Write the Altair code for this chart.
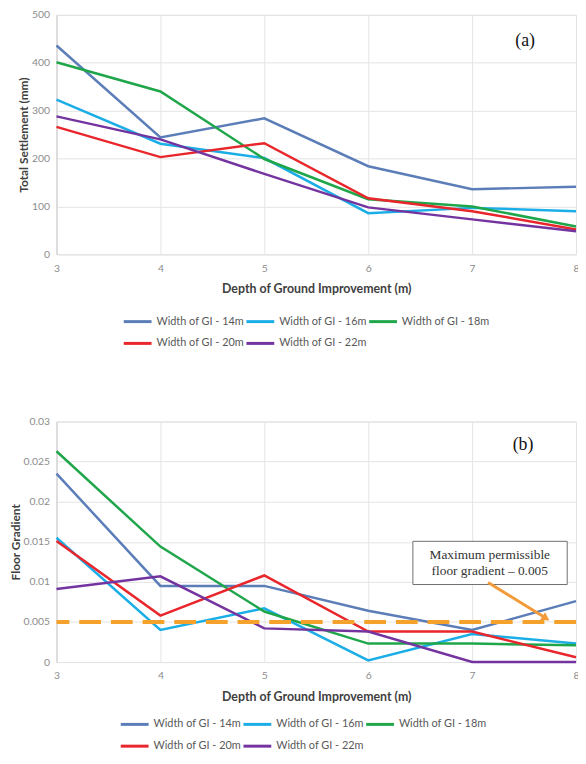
import altair as alt
import pandas as pd

depth = [3, 4, 5, 6, 7, 8]
series = ["Width of GI - 14m", "Width of GI - 16m", "Width of GI - 18m",
          "Width of GI - 20m", "Width of GI - 22m"]
colors = ["#5B7DB8", "#1BAEE6", "#1FA64A", "#E8262B", "#7434A0"]

settle_14 = [436, 244, 284, 184, 136, 141]
settle_16 = [323, 231, 201, 86, 97, 90]
settle_18 = [401, 340, 199, 115, 100, 58]
settle_20 = [266, 203, 232, 117, 90, 52]
settle_22 = [288, 240, 168, 98, 73, 48]

grad_14 = [0.0235, 0.0095, 0.0095, 0.0064, 0.0040, 0.0076]
grad_16 = [0.0155, 0.0040, 0.0067, 0.0002, 0.0035, 0.0023]
grad_18 = [0.0263, 0.0144, 0.0063, 0.0023, 0.0023, 0.0021]
grad_20 = [0.0151, 0.0058, 0.0108, 0.0038, 0.0038, 0.0006]
grad_22 = [0.0091, 0.0107, 0.0042, 0.0038, 0.0000, 0.0000]

limit = [0.005]
note_lines = ["Maximum permissible", "floor gradient \u2013 0.005"]
note_x = [7.17, 7.17]
note_y = [0.01335, 0.01139]
box_x = [6.43]
box_x2 = [7.915]
box_y = [0.01506]
box_y2 = [0.00967]
arrow_x = [7.154]
arrow_y = [0.00992]
arrow_x2 = [7.70]
arrow_y2 = [0.00555]
label_a = ["(a)"]
label_a_x = [7.51]
label_a_y = [446]
label_b = ["(b)"]
label_b_x = [7.49]
label_b_y = [0.02706]

def long_df(vals):
    rows = []
    for s, v in zip(series, vals):
        for d, y in zip(depth, v):
            rows.append({"depth": d, "value": y, "series": s})
    return pd.DataFrame(rows)

top_df = long_df([settle_14, settle_16, settle_18, settle_20, settle_22])
bot_df = long_df([grad_14, grad_16, grad_18, grad_20, grad_22])

color_scale = alt.Scale(domain=series, range=colors)
FONT = "Lato"
GRID = "#E4E4E4"

def x_axis():
    return alt.Axis(
        title="Depth of Ground  Improvement (m)", values=depth, format="d",
        labelFont=FONT, labelFontSize=10.5, labelColor="#8C8C8C", labelFlush=False,
        labelPadding=9, ticks=False, domain=False, labelOverlap=False,
        titleFont=FONT, titleFontSize=12.5, titleColor="#404040", titleFontWeight="bold",
        titlePadding=9, grid=True, gridColor=GRID)

def y_axis(title, values, **kw):
    return alt.Axis(title=title, values=values, labelOverlap=False,
                    labelFont=FONT, labelFontSize=10.5, labelColor="#8C8C8C", labelPadding=7,
                    ticks=False, domain=True, domainColor="#D0D0D0",
                    titleFont=FONT, titleFontSize=12, titleColor="#404040",
                    titleFontWeight="bold", titlePadding=1, gridColor=GRID, **kw)

def legend(lx, ly):
    return alt.Legend(
        title=None, orient="none", legendX=lx, legendY=ly, direction="horizontal", columns=3,
        symbolType="stroke", symbolStrokeWidth=3, symbolSize=790,
        labelFont=FONT, labelFontSize=11, labelColor="#595959",
        columnPadding=-18, rowPadding=-1.5, labelOffset=3, labelLimit=200)

xscale = alt.Scale(domain=[3, 8], nice=False, zero=False)

# ---------- panel (a)
lines_a = alt.Chart(top_df).mark_line(strokeWidth=2.5).encode(
    x=alt.X("depth:Q", scale=xscale, axis=x_axis()),
    y=alt.Y("value:Q", scale=alt.Scale(domain=[0, 500]),
            axis=y_axis("Total Settlement (mm)", list(range(0, 501, 50)))),
    color=alt.Color("series:N", scale=color_scale, legend=legend(66, 294)),
    order=alt.Order("depth:Q"))
text_a = alt.Chart(pd.DataFrame({"t": label_a, "x": label_a_x, "y": label_a_y})).mark_text(
    font="Liberation Serif", fontSize=18, color="#111111").encode(
    x="x:Q", y="y:Q", text="t:N")
panel_a = alt.layer(lines_a, text_a).properties(width=525, height=242)

# ---------- panel (b)
lines_b = alt.Chart(bot_df).mark_line(strokeWidth=2.5).encode(
    x=alt.X("depth:Q", scale=xscale, axis=x_axis()),
    y=alt.Y("value:Q", scale=alt.Scale(domain=[0, 0.03]),
            axis=y_axis("Floor Gradient", [0, 0.005, 0.01, 0.015, 0.02, 0.025, 0.03],
                        labelExpr="datum.value == 0 ? '0' : format(datum.value, '.3~f')")),
    color=alt.Color("series:N", scale=color_scale, legend=legend(63, 290)),
    order=alt.Order("depth:Q"))
limit_rule = alt.Chart(pd.DataFrame({"y": limit})).mark_rule(
    color="#F5A22D", strokeWidth=4, strokeDash=[22, 10]).encode(y="y:Q")
box = alt.Chart(pd.DataFrame({"x": box_x, "x2": box_x2, "y": box_y, "y2": box_y2})).mark_rect(
    fill="white", stroke="#6E6E6E", strokeWidth=1).encode(x="x:Q", x2="x2:Q", y="y:Q", y2="y2:Q")
note = alt.Chart(pd.DataFrame({"t": note_lines, "x": note_x, "y": note_y})).mark_text(
    font="Liberation Serif", fontSize=13.5, color="#333333").encode(x="x:Q", y="y:Q", text="t:N")
arrow = alt.Chart(pd.DataFrame({"x": arrow_x, "y": arrow_y, "x2": arrow_x2, "y2": arrow_y2})).mark_rule(
    color="#F39B3A", strokeWidth=3).encode(x="x:Q", y="y:Q", x2="x2:Q", y2="y2:Q")
head = alt.Chart(pd.DataFrame({"x": arrow_x2, "y": arrow_y2})).mark_point(
    shape="triangle", filled=True, color="#F39B3A", size=90, angle=122, opacity=1).encode(x="x:Q", y="y:Q")
text_b = alt.Chart(pd.DataFrame({"t": label_b, "x": label_b_x, "y": label_b_y})).mark_text(
    font="Liberation Serif", fontSize=18, color="#111111").encode(x="x:Q", y="y:Q", text="t:N")
panel_b = alt.layer(lines_b, limit_rule, box, note, arrow, head, text_b).properties(width=525, height=243)

chart = alt.vconcat(panel_a, panel_b, spacing=66).resolve_legend(color="independent").properties(
    padding={"left": 0, "top": -3, "right": -4, "bottom": -3}
).configure_view(stroke=None).configure(background="white")

chart.save("out.html", embed_options={"renderer": "svg", "actions": False})
